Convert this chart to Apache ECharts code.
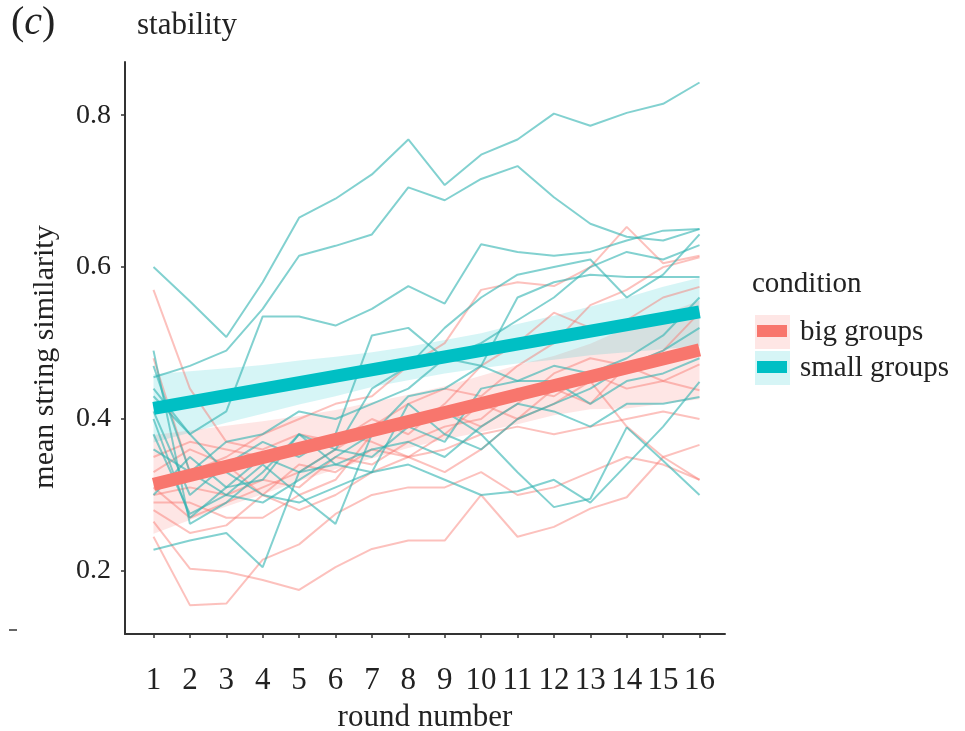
<!DOCTYPE html>
<html>
<head>
<meta charset="utf-8">
<script src="https://cdn.jsdelivr.net/npm/echarts@6/dist/echarts.min.js"></script>
<style>
  html, body { margin: 0; padding: 0; background: #ffffff; }
  #chart { width: 965px; height: 731px; }
</style>
</head>
<body>
<div id="chart"></div>
<script>
// Rounds of the experiment
const rounds = [1, 2, 3, 4, 5, 6, 7, 8, 9, 10, 11, 12, 13, 14, 15, 16];
const xTicks = rounds;
const yTicks = [0.2, 0.4, 0.6, 0.8];

// Mean string similarity per group, small groups condition
const smallGroups = [
  [0.600, 0.555, 0.508, 0.580, 0.665, 0.690, 0.722, 0.768, 0.708, 0.748, 0.768, 0.802, 0.786, 0.803, 0.815, 0.843],
  [0.455, 0.470, 0.490, 0.545, 0.615, 0.628, 0.643, 0.705, 0.688, 0.716, 0.733, 0.692, 0.657, 0.640, 0.635, 0.650],
  [0.430, 0.380, 0.410, 0.535, 0.535, 0.523, 0.545, 0.575, 0.552, 0.630, 0.620, 0.615, 0.620, 0.635, 0.648, 0.650],
  [0.490, 0.262, 0.290, 0.330, 0.380, 0.360, 0.440, 0.470, 0.520, 0.560, 0.590, 0.600, 0.610, 0.560, 0.590, 0.643],
  [0.410, 0.300, 0.340, 0.370, 0.350, 0.380, 0.510, 0.520, 0.480, 0.500, 0.530, 0.560, 0.600, 0.620, 0.610, 0.629],
  [0.380, 0.275, 0.300, 0.290, 0.320, 0.350, 0.380, 0.430, 0.440, 0.470, 0.560, 0.580, 0.590, 0.587, 0.587, 0.587],
  [0.228, 0.240, 0.250, 0.205, 0.330, 0.360, 0.350, 0.390, 0.370, 0.440, 0.450, 0.450, 0.420, 0.450, 0.460, 0.480],
  [0.470, 0.330, 0.300, 0.340, 0.300, 0.262, 0.380, 0.400, 0.410, 0.380, 0.330, 0.284, 0.295, 0.389, 0.345, 0.300],
  [0.440, 0.380, 0.330, 0.300, 0.290, 0.310, 0.330, 0.340, 0.320, 0.300, 0.305, 0.320, 0.290, 0.340, 0.390, 0.449],
  [0.400, 0.270, 0.310, 0.350, 0.330, 0.340, 0.360, 0.370, 0.350, 0.390, 0.420, 0.410, 0.390, 0.420, 0.420, 0.429],
  [0.360, 0.330, 0.370, 0.380, 0.410, 0.400, 0.420, 0.440, 0.480, 0.470, 0.450, 0.470, 0.460, 0.480, 0.510, 0.560],
  [0.300, 0.350, 0.310, 0.320, 0.380, 0.340, 0.330, 0.420, 0.380, 0.360, 0.400, 0.420, 0.440, 0.470, 0.490, 0.520]
];

// Mean string similarity per group, big groups condition
const bigGroups = [
  [0.570, 0.440, 0.370, 0.360, 0.380, 0.370, 0.400, 0.380, 0.420, 0.470, 0.500, 0.540, 0.520, 0.530, 0.560, 0.574],
  [0.245, 0.155, 0.157, 0.215, 0.235, 0.275, 0.300, 0.310, 0.310, 0.330, 0.300, 0.310, 0.330, 0.350, 0.340, 0.320],
  [0.265, 0.203, 0.199, 0.188, 0.175, 0.205, 0.229, 0.240, 0.240, 0.300, 0.245, 0.258, 0.282, 0.297, 0.350, 0.366],
  [0.480, 0.330, 0.350, 0.380, 0.400, 0.420, 0.430, 0.470, 0.500, 0.570, 0.580, 0.575, 0.600, 0.653, 0.605, 0.615],
  [0.300, 0.310, 0.300, 0.320, 0.310, 0.350, 0.340, 0.370, 0.390, 0.400, 0.440, 0.430, 0.460, 0.440, 0.450, 0.472],
  [0.330, 0.360, 0.340, 0.300, 0.340, 0.330, 0.360, 0.350, 0.380, 0.420, 0.400, 0.420, 0.450, 0.390, 0.350, 0.320],
  [0.290, 0.290, 0.270, 0.270, 0.300, 0.320, 0.380, 0.400, 0.410, 0.390, 0.420, 0.460, 0.480, 0.470, 0.450, 0.438],
  [0.350, 0.370, 0.360, 0.350, 0.360, 0.380, 0.370, 0.350, 0.360, 0.380, 0.390, 0.380, 0.390, 0.400, 0.410, 0.400],
  [0.310, 0.270, 0.290, 0.310, 0.330, 0.360, 0.390, 0.420, 0.440, 0.430, 0.470, 0.500, 0.550, 0.570, 0.600, 0.613],
  [0.280, 0.250, 0.260, 0.300, 0.280, 0.300, 0.330, 0.350, 0.330, 0.360, 0.400, 0.440, 0.420, 0.470, 0.490, 0.540]
];

// Linear fits (value at round 1 and round 16)
const fitRounds = [1, 16];
const smallFit = [0.414, 0.541];
const bigFit = [0.314, 0.491];

// Confidence bands of the fits
const smallLower = [0.369, 0.382, 0.395, 0.407, 0.419, 0.430, 0.442, 0.451, 0.460, 0.467, 0.473, 0.478, 0.484, 0.488, 0.492, 0.496];
const smallUpper = [0.459, 0.463, 0.467, 0.471, 0.477, 0.482, 0.488, 0.495, 0.504, 0.513, 0.525, 0.536, 0.548, 0.560, 0.574, 0.586];
const bigLower = [0.249, 0.267, 0.285, 0.301, 0.318, 0.334, 0.348, 0.362, 0.373, 0.383, 0.393, 0.405, 0.413, 0.414, 0.420, 0.426];
const bigUpper = [0.379, 0.385, 0.391, 0.397, 0.404, 0.412, 0.422, 0.432, 0.443, 0.457, 0.471, 0.483, 0.499, 0.520, 0.538, 0.556];

const RED = '#F8766D';
const TEAL = '#00BFC4';
const FONT = 'Liberation Serif';

function bandSeries(lower, upper, color) {
  return {
    type: 'custom',
    silent: true,
    z: 1,
    data: rounds.map((r, i) => [r, lower[i], upper[i]]),
    encode: { x: 0, y: [1, 2] },
    renderItem: function (params, api) {
      if (params.dataIndex !== 0) return null;
      const pts = [];
      for (let i = 0; i < rounds.length; i++) pts.push(api.coord([rounds[i], upper[i]]));
      for (let i = rounds.length - 1; i >= 0; i--) pts.push(api.coord([rounds[i], lower[i]]));
      return { type: 'polygon', shape: { points: pts }, style: { fill: color } };
    }
  };
}

function groupSeries(values, color, opacity) {
  return {
    type: 'line',
    silent: true,
    symbol: 'none',
    z: 2,
    data: rounds.map((r, i) => [r, values[i]]),
    lineStyle: { color: color, width: 2, opacity: opacity }
  };
}

function fitSeries(values, color) {
  return {
    type: 'line',
    silent: true,
    symbol: 'none',
    z: 4,
    data: fitRounds.map((r, i) => [r, values[i]]),
    lineStyle: { color: color, width: 13, cap: 'butt' }
  };
}

const series = [];
series.push(bandSeries(bigLower, bigUpper, 'rgba(248,118,109,0.18)'));
series.push(bandSeries(smallLower, smallUpper, 'rgba(0,191,196,0.16)'));
bigGroups.forEach(g => series.push(groupSeries(g, RED, 0.45)));
smallGroups.forEach(g => series.push(groupSeries(g, '#2fb3b0', 0.6)));
series.push(fitSeries(bigFit, RED));
series.push(fitSeries(smallFit, TEAL));

const chart = echarts.init(document.getElementById('chart'), null, { renderer: 'canvas' });

chart.setOption({
  animation: false,
  backgroundColor: '#ffffff',
  textStyle: { fontFamily: FONT },
  grid: { left: 125, right: 240, top: 62, bottom: 97, containLabel: false, outerBoundsMode: 'none' },
  xAxis: {
    type: 'value',
    min: 0.217,
    max: 16.70,
    name: 'round number',
    nameLocation: 'middle',
    nameGap: 68,
    nameTextStyle: { fontFamily: FONT, fontSize: 31, color: '#222' },
    axisLine: { show: true, lineStyle: { color: '#333', width: 2 } },
    axisTick: { show: true, customValues: xTicks, length: 4, lineStyle: { color: '#333', width: 1.5 } },
    axisLabel: { customValues: xTicks, fontFamily: FONT, fontSize: 31, color: '#222', margin: 31 },
    splitLine: { show: false }
  },
  yAxis: {
    type: 'value',
    min: 0.117,
    max: 0.870,
    axisLine: { show: true, lineStyle: { color: '#333', width: 2 } },
    axisTick: { show: true, customValues: yTicks, length: 4, lineStyle: { color: '#333', width: 1.5 } },
    axisLabel: { customValues: yTicks, fontFamily: FONT, fontSize: 28, color: '#222', margin: 14,
      formatter: v => v.toFixed(1) },
    splitLine: { show: false }
  },
  series: series,
  graphic: [
    {
      type: 'text', x: 45, y: 357, rotation: Math.PI / 2,
      style: { text: 'mean string similarity', fontFamily: FONT, fontSize: 30, fill: '#222',
        align: 'center', verticalAlign: 'middle' }
    },
    {
      type: 'text', left: 11, top: 3,
      style: {
        text: '({c|c})', fontFamily: FONT, fontSize: 40, fill: '#222',
        rich: { c: { fontFamily: FONT, fontSize: 40, fontStyle: 'italic', fill: '#222' } }
      }
    },
    { type: 'text', left: 137, top: 10, style: { text: 'stability', fontFamily: FONT, fontSize: 31, fill: '#222' } },
    { type: 'line', shape: { x1: 9, y1: 630, x2: 17, y2: 630 }, style: { stroke: '#333', lineWidth: 1.5 } },
    // legend
    { type: 'text', left: 752, top: 270, style: { text: 'condition', fontFamily: FONT, fontSize: 29, fill: '#222' } },
    { type: 'rect', shape: { x: 755, y: 315, width: 35, height: 34 }, style: { fill: 'rgba(248,118,109,0.18)' } },
    { type: 'rect', shape: { x: 757, y: 325, width: 30, height: 12 }, style: { fill: RED } },
    { type: 'text', left: 800, top: 318, style: { text: 'big groups', fontFamily: FONT, fontSize: 29, fill: '#222' } },
    { type: 'rect', shape: { x: 755, y: 351, width: 35, height: 34 }, style: { fill: 'rgba(0,191,196,0.16)' } },
    { type: 'rect', shape: { x: 757, y: 361, width: 30, height: 12 }, style: { fill: TEAL } },
    { type: 'text', left: 800, top: 354, style: { text: 'small groups', fontFamily: FONT, fontSize: 29, fill: '#222' } }
  ]
});
</script>
</body>
</html>
